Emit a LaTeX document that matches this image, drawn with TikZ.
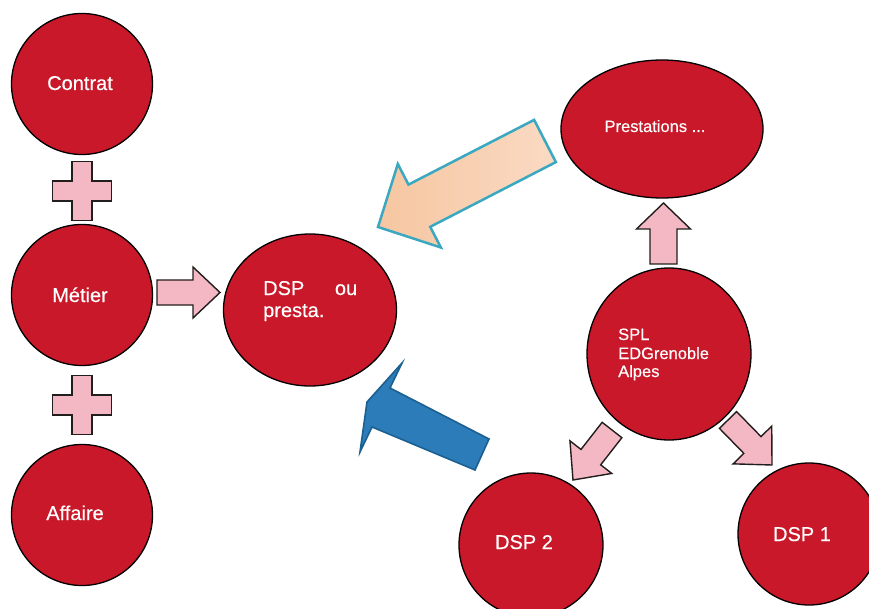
\documentclass[tikz,border=0pt]{standalone}
\usepackage{fontspec}
\setmainfont{Liberation Sans}
\newfontfamily\medfont[FakeBold=0.4]{Liberation Sans}
\usetikzlibrary{calc,shapes.geometric}
\definecolor{cred}{RGB}{201,24,41}
\definecolor{cpink}{RGB}{244,184,196}
\definecolor{cedge}{RGB}{35,30,30}
\definecolor{cpeachA}{RGB}{246,198,160}
\definecolor{cpeachB}{RGB}{250,218,196}
\definecolor{cteal}{RGB}{58,168,192}
\definecolor{cblue}{RGB}{43,124,184}
\definecolor{cbluedk}{RGB}{28,95,145}
% #1 style, #2 tail, #3 tip, #4 half shaft width, #5 half head width, #6 head length
\newcommand\blockarrow[6]{%
  \coordinate (ba-h) at ($(#3)!#6!(#2)$);
  \draw[#1] ($(#2)!#4!90:(#3)$) -- ($(ba-h)!#4!90:(#3)$) -- ($(ba-h)!#5!90:(#3)$)
    -- (#3) -- ($(ba-h)!#5!-90:(#3)$) -- ($(ba-h)!#4!-90:(#3)$)
    -- ($(#2)!#4!-90:(#3)$) -- cycle;}
\begin{document}
\begin{tikzpicture}[x=1pt,y=-1pt,
  bubble/.style={draw=black,line width=1.3pt,fill=cred,inner sep=0pt},
  roundb/.style={bubble,circle,minimum size=#1},
  ovalb/.style 2 args={bubble,ellipse,minimum width=#1,minimum height=#2},
  big/.style={text=white,inner sep=0pt,font=\medfont\fontsize{20}{23}\selectfont},
  small/.style={text=white,inner sep=0pt,font=\medfont\fontsize{16.5}{19}\selectfont},
  pinkarrow/.style={fill=cpink,draw=cedge,line width=1.4pt,line join=miter},
  plusstyle/.style={fill=cpink,draw=cedge,line width=1.4pt},
  plussign/.pic={\draw[plusstyle] (-10,-29.5) -- (10,-29.5) -- (10,-10) -- (29.5,-10)
     -- (29.5,10) -- (10,10) -- (10,29.5) -- (-10,29.5) -- (-10,10) -- (-29.5,10)
     -- (-29.5,-10) -- (-10,-10) -- cycle;}]
\useasboundingbox[fill=white] (0,0) rectangle (869,609);

% bubbles
\node[roundb=141pt] (contrat) at (82,84) {};
\node[roundb=141pt] (metier) at (82,295) {};
\node[roundb=141pt] (affaire) at (82,515) {};
\node[ovalb={173pt}{152pt}] (dsp) at (310,310) {};
\node[ovalb={202pt}{138pt}] (presta) at (662,129) {};
\node[ovalb={164pt}{172pt}] (spl) at (669,354) {};
\node[roundb=144pt] (dsp2) at (531,545) {};
\node[roundb=142pt] (dsp1) at (809,534) {};

% texts
\node[big,anchor=base] (tcontrat) at (80,90) {Contrat};
\node[big,anchor=base] (tmetier) at (80,302) {Métier};
\node[big,anchor=base] (taffaire) at (75,520) {Affaire};
\node[big,anchor=base west] (tdspa) at (263,295) {\makebox[94pt][s]{DSP\hfill ou}};
\node[big,anchor=base west] (tdspb) at (263,317) {presta.};
\node[small,anchor=base] (tpresta) at (655,132) {Prestations ...};
\node[small,anchor=base west] (tspla) at (618,340) {SPL};
\node[small,anchor=base west] (tsplb) at (618,359) {EDGrenoble};
\node[small,anchor=base west] (tsplc) at (618,377) {Alpes};
\node[big,anchor=base] (tdsp2) at (524,549) {DSP 2};
\node[big,anchor=base] (tdsp1) at (802,541) {DSP 1};

% plus signs
\pic (plusA) at (82,191) {plussign};
\pic (plusB) at (82,405) {plussign};

% small pink arrows
\coordinate (m1) at (157,292.5); \coordinate (m2) at (220,292.5);
\blockarrow{pinkarrow}{m1}{m2}{12.5pt}{25.5pt}{27pt}
\coordinate (u1) at (663.5,264); \coordinate (u2) at (663.5,203);
\blockarrow{pinkarrow}{u1}{u2}{13.5pt}{27pt}{26pt}
\coordinate (l1) at (612,430); \coordinate (l2) at (573,480);
\blockarrow{pinkarrow}{l1}{l2}{12.5pt}{26.5pt}{29pt}
\coordinate (r1) at (728,420); \coordinate (r2) at (772,465);
\blockarrow{pinkarrow}{r1}{r2}{12pt}{27pt}{28pt}

% big orange arrow
\coordinate (o1) at (545,141); \coordinate (o2) at (378,227);
\blockarrow{left color=cpeachA,right color=cpeachB,draw=cteal,line width=2.5pt,line join=miter}{o1}{o2}{23.75pt}{47pt}{46.5pt}

% blue arrow
\draw[fill=cblue,draw=cbluedk,line width=1.6pt,line join=miter]
  (489,439) -- (390,388) -- (402,363) -- (367,402) -- (360,452) -- (372,427) -- (475,470) -- cycle;
\end{tikzpicture}
\end{document}
